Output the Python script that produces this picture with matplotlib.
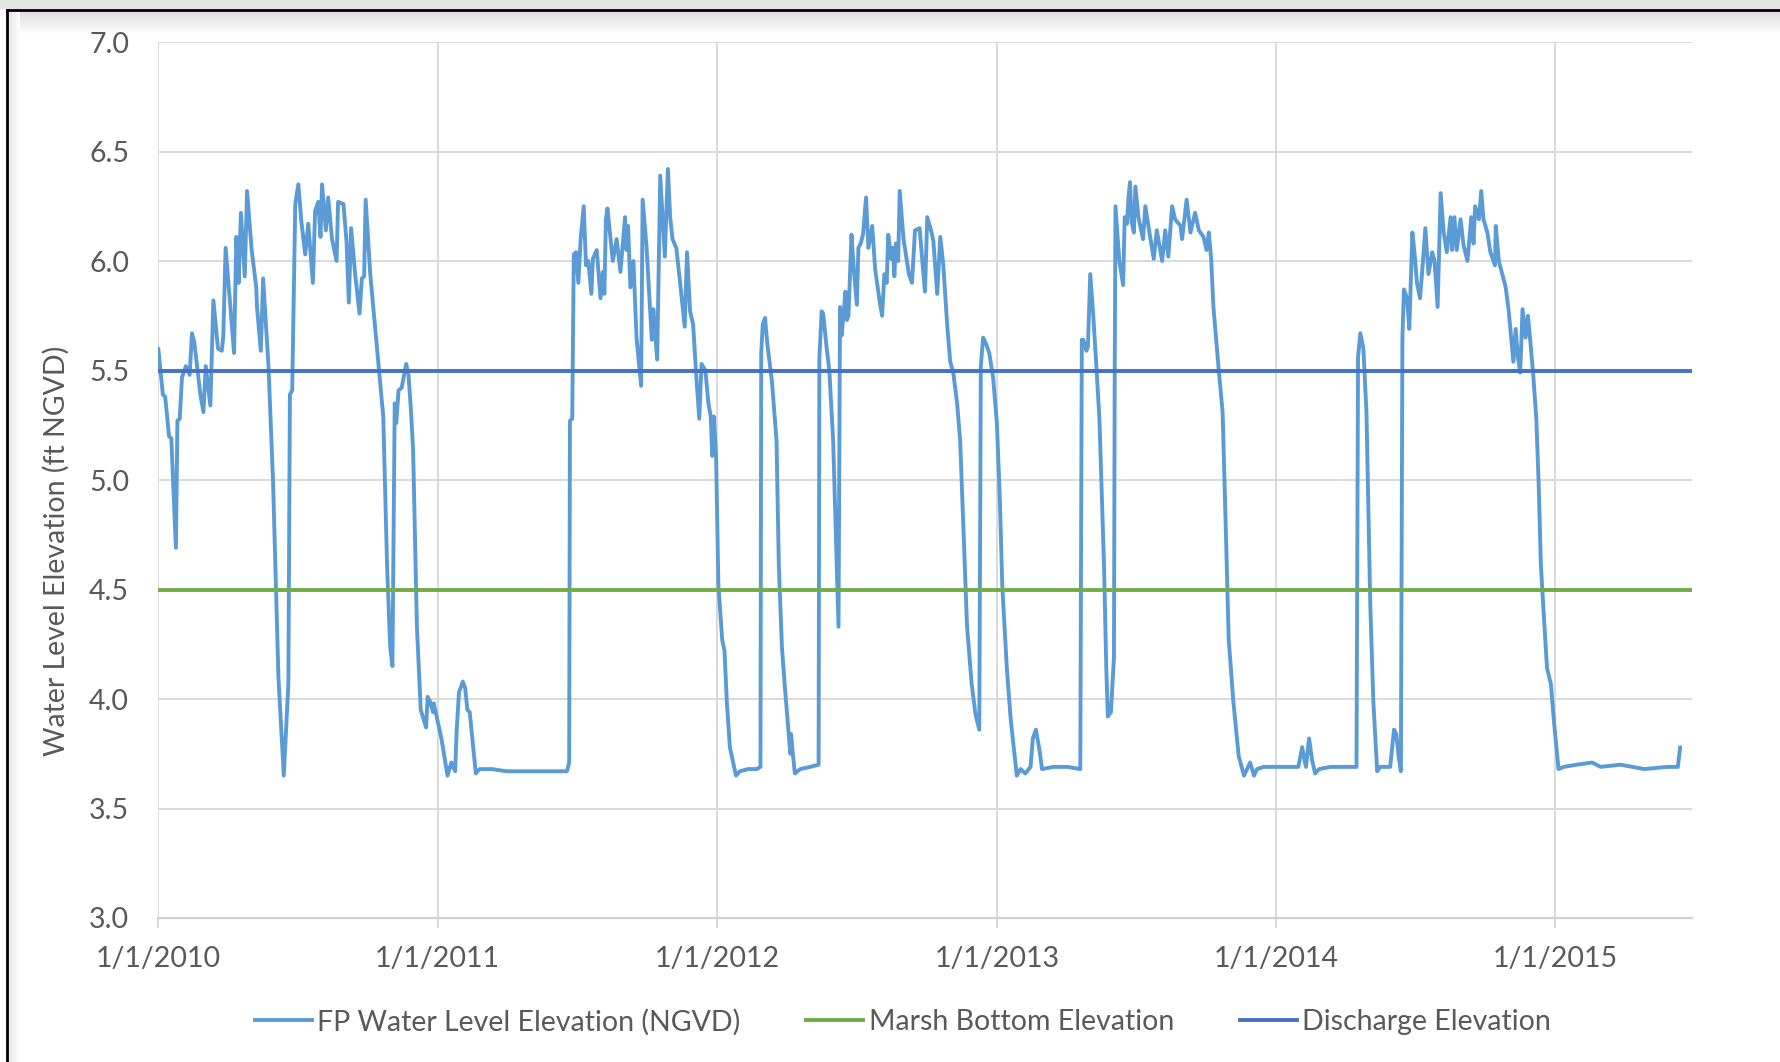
import matplotlib
matplotlib.use('Agg')
import matplotlib.pyplot as plt
import matplotlib.dates as mdates
from matplotlib.ticker import FuncFormatter
from matplotlib.lines import Line2D
from matplotlib.patches import Rectangle
import numpy as np
import pandas as pd

plt.rcParams['font.family'] = ['Lato', 'DejaVu Sans']

# ---------------- data ----------------
start_date = '2010-01-01'
axis_end_date = '2015-06-29'

# days after 1/1/2010
day_offsets = [
    0, 6, 9, 14, 17, 23, 25, 28, 31, 36, 41, 44, 47, 55, 59, 62, 68, 72, 78, 83,
    85, 88, 99, 102, 105, 108, 113, 116, 122, 128, 129, 134, 137, 144, 150, 157, 164, 170, 172, 175,
    179, 183, 187, 192, 196, 202, 205, 209, 212, 214, 219, 222, 227, 233, 235, 242, 246, 249, 252, 257,
    263, 266, 269, 271, 277, 288, 294, 299, 303, 306, 309, 311, 314, 318, 324, 327, 330, 333, 338, 343,
    350, 352, 355, 359, 360, 365, 370, 378, 383, 388, 390, 393, 398, 401, 404, 407, 415, 420, 436, 455,
    473, 500, 534, 537, 538, 541, 543, 546, 549, 552, 556, 559, 562, 566, 568, 573, 578, 581, 583, 585,
    587, 594, 599, 604, 610, 612, 614, 617, 621, 625, 631, 633, 638, 645, 647, 652, 656, 662, 666, 669,
    672, 677, 682, 688, 691, 695, 699, 703, 707, 710, 715, 719, 722, 724, 726, 729, 732, 737, 740, 743,
    747, 755, 760, 771, 782, 787, 788, 790, 793, 796, 802, 808, 811, 815, 819, 824, 826, 827, 829, 832,
    839, 852, 863, 864, 867, 869, 873, 877, 882, 886, 889, 891, 893, 896, 898, 900, 902, 906, 909, 913,
    915, 918, 921, 925, 928, 933, 937, 943, 946, 949, 952, 954, 958, 960, 962, 964, 967, 969, 974, 981,
    985, 989, 995, 999, 1002, 1005, 1010, 1013, 1018, 1022, 1026, 1031, 1035, 1039, 1044, 1048, 1052, 1057, 1063, 1068,
    1073, 1075, 1078, 1082, 1086, 1091, 1096, 1100, 1103, 1109, 1114, 1122, 1127, 1133, 1140, 1143, 1147, 1152, 1155, 1170,
    1188, 1205, 1207, 1209, 1213, 1215, 1218, 1222, 1226, 1230, 1236, 1239, 1241, 1245, 1249, 1250, 1251, 1256, 1261, 1263,
    1266, 1268, 1270, 1272, 1275, 1277, 1281, 1287, 1290, 1294, 1301, 1305, 1312, 1316, 1320, 1325, 1329, 1336, 1338, 1344,
    1349, 1355, 1360, 1366, 1370, 1373, 1376, 1379, 1386, 1391, 1395, 1399, 1405, 1412, 1419, 1423, 1427, 1432, 1436, 1445,
    1462, 1480, 1490, 1495, 1498, 1500, 1504, 1508, 1512, 1517, 1532, 1554, 1566, 1568, 1571, 1575, 1579, 1584, 1588, 1593,
    1597, 1610, 1615, 1618, 1621, 1624, 1626, 1628, 1632, 1635, 1639, 1642, 1645, 1649, 1652, 1656, 1660, 1665, 1668, 1672,
    1676, 1680, 1684, 1689, 1691, 1694, 1697, 1702, 1706, 1711, 1716, 1719, 1721, 1726, 1729, 1732, 1737, 1741, 1747, 1748,
    1752, 1761, 1765, 1771, 1774, 1777, 1780, 1783, 1787, 1790, 1793, 1797, 1801, 1804, 1807, 1811, 1815, 1820, 1824, 1830,
    1837, 1854, 1874, 1885, 1911, 1942, 1972, 1986, 1989,
]

fp_water_level = [
    5.60, 5.39, 5.38, 5.20, 5.19, 4.69, 5.27, 5.28, 5.47, 5.52, 5.48, 5.67, 5.63, 5.39, 5.31, 5.52, 5.34, 5.82, 5.60, 5.59,
    5.66, 6.06, 5.58, 6.11, 5.90, 6.22, 5.93, 6.32, 6.05, 5.88, 5.79, 5.59, 5.92, 5.52, 4.99, 4.10, 3.65, 4.07, 5.39, 5.41,
    6.26, 6.35, 6.18, 6.03, 6.17, 5.90, 6.23, 6.27, 6.11, 6.35, 6.14, 6.29, 6.10, 6.00, 6.27, 6.26, 6.09, 5.81, 6.15, 5.95,
    5.76, 5.92, 5.93, 6.28, 5.94, 5.52, 5.29, 4.61, 4.24, 4.15, 5.35, 5.26, 5.41, 5.42, 5.53, 5.48, 5.33, 5.14, 4.33, 3.95,
    3.87, 4.01, 3.99, 3.94, 3.98, 3.90, 3.82, 3.65, 3.71, 3.67, 3.86, 4.03, 4.08, 4.05, 3.95, 3.94, 3.66, 3.68, 3.68, 3.67,
    3.67, 3.67, 3.67, 3.71, 5.27, 5.28, 6.03, 6.04, 5.90, 6.10, 6.25, 5.98, 6.00, 5.85, 6.01, 6.05, 5.83, 5.95, 5.85, 6.19,
    6.24, 6.00, 6.10, 5.95, 6.20, 6.05, 6.16, 5.88, 6.00, 5.65, 5.43, 6.28, 6.07, 5.64, 5.78, 5.55, 6.39, 6.02, 6.42, 6.20,
    6.10, 6.06, 5.90, 5.70, 6.04, 5.77, 5.71, 5.48, 5.28, 5.53, 5.50, 5.35, 5.29, 5.11, 5.29, 5.11, 4.52, 4.27, 4.22, 3.99,
    3.78, 3.65, 3.67, 3.68, 3.68, 3.69, 5.58, 5.71, 5.74, 5.62, 5.45, 5.18, 4.61, 4.24, 4.05, 3.84, 3.75, 3.84, 3.76, 3.66,
    3.68, 3.69, 3.70, 5.56, 5.77, 5.76, 5.62, 5.50, 5.18, 4.69, 4.33, 5.79, 5.66, 5.77, 5.86, 5.73, 5.75, 6.12, 5.96, 5.80,
    6.06, 6.08, 6.12, 6.29, 6.06, 6.16, 5.96, 5.81, 5.75, 5.94, 5.90, 6.12, 6.01, 6.06, 5.93, 6.08, 6.00, 6.32, 6.10, 5.94,
    5.90, 6.14, 6.15, 5.98, 5.86, 6.20, 6.14, 6.09, 5.85, 6.11, 5.98, 5.71, 5.54, 5.49, 5.35, 5.18, 4.80, 4.33, 4.07, 3.93,
    3.86, 5.52, 5.65, 5.62, 5.58, 5.47, 5.26, 4.90, 4.52, 4.14, 3.91, 3.65, 3.68, 3.66, 3.69, 3.82, 3.86, 3.76, 3.68, 3.69,
    3.69, 3.68, 5.64, 5.64, 5.59, 5.61, 5.94, 5.75, 5.52, 5.28, 4.61, 4.14, 3.92, 3.94, 4.19, 5.50, 6.25, 6.00, 5.89, 6.20,
    6.17, 6.29, 6.36, 6.18, 6.13, 6.34, 6.20, 6.10, 6.25, 6.16, 6.01, 6.14, 6.00, 6.14, 6.02, 6.25, 6.19, 6.16, 6.10, 6.28,
    6.13, 6.22, 6.14, 6.11, 6.05, 6.13, 6.01, 5.79, 5.50, 5.31, 4.80, 4.27, 3.99, 3.74, 3.65, 3.68, 3.71, 3.65, 3.68, 3.69,
    3.69, 3.69, 3.69, 3.78, 3.72, 3.69, 3.82, 3.72, 3.66, 3.68, 3.69, 3.69, 3.69, 5.56, 5.67, 5.60, 5.31, 4.43, 3.99, 3.67,
    3.69, 3.69, 3.86, 3.84, 3.74, 3.67, 5.65, 5.87, 5.83, 5.69, 6.13, 6.03, 5.90, 5.83, 5.96, 6.15, 5.94, 6.04, 6.00, 5.79,
    6.31, 6.13, 6.04, 6.20, 6.05, 6.20, 6.05, 6.19, 6.07, 6.00, 6.20, 6.08, 6.25, 6.19, 6.32, 6.19, 6.13, 6.04, 5.98, 6.16,
    6.00, 5.88, 5.77, 5.54, 5.69, 5.56, 5.49, 5.78, 5.65, 5.75, 5.64, 5.48, 5.28, 4.99, 4.61, 4.37, 4.14, 4.07, 3.90, 3.68,
    3.69, 3.70, 3.71, 3.69, 3.70, 3.68, 3.69, 3.69, 3.78,
]

marsh_bottom_elevation = [4.5, 4.5]
discharge_elevation = [5.5, 5.5]

series_labels = ['FP Water Level Elevation (NGVD)', 'Marsh Bottom Elevation', 'Discharge Elevation']
series_colors = ['#5B9BD5', '#70AD47', '#4472C4']
year_ticks = ['2010-01-01', '2011-01-01', '2012-01-01', '2013-01-01', '2014-01-01', '2015-01-01']
y_ticks = [3.0, 3.5, 4.0, 4.5, 5.0, 5.5, 6.0, 6.5, 7.0]
y_label = 'Water Level Elevation (ft NGVD)'

# ---------------- figure ----------------
W, H = 1781, 1062
FS = 20.5
fig = plt.figure(figsize=(W / 100, H / 100), dpi=100, facecolor='white')

# window frame / shadow decorations
fig.patches.append(Rectangle((0, 1 - 9 / H), 1, 9 / H, transform=fig.transFigure,
                             facecolor='#e1e6e1', edgecolor='none', zorder=0))
grad_ax = fig.add_axes([8 / W, 1 - 34 / H, 1 - 8 / W, 24 / H], zorder=0)
g = np.linspace(0.86, 1.0, 64)
grad_ax.imshow(np.dstack([g, g, g]).reshape(64, 1, 3), aspect='auto',
               extent=[0, 1, 0, 1], interpolation='bilinear')
grad_ax.axis('off')
lgrad_ax = fig.add_axes([8 / W, 0, 12 / W, 1 - 10 / H], zorder=0)
lg = np.linspace(0.90, 1.0, 32)
lgrad_ax.imshow(np.dstack([lg, lg, lg]).reshape(1, 32, 3), aspect='auto',
                extent=[0, 1, 0, 1], interpolation='bilinear')
lgrad_ax.axis('off')
fig.lines.append(Line2D([7 / W, 1], [1 - 9.5 / H, 1 - 9.5 / H], transform=fig.transFigure,
                        color='black', lw=2.0, zorder=5))
fig.lines.append(Line2D([7 / W, 7 / W], [0, 1 - 9.5 / H], transform=fig.transFigure,
                        color='black', lw=2.0, zorder=5))

ax = fig.add_axes([158.3 / W, 1 - 918 / H, (1692.4 - 158.3) / W, (918 - 42) / H], zorder=2)
ax.set_facecolor('none')

t0 = pd.Timestamp(start_date)
t_end = pd.Timestamp(axis_end_date)
fp_dates = t0 + pd.to_timedelta(day_offsets, unit='D')
line_dates = [t0, t_end]

lw = 2.8
ax.plot(fp_dates, fp_water_level, color=series_colors[0], lw=lw, solid_joinstyle='round',
        solid_capstyle='round', label=series_labels[0], zorder=3)
ax.plot(line_dates, marsh_bottom_elevation, color=series_colors[1], lw=lw,
        label=series_labels[1], zorder=4)
ax.plot(line_dates, discharge_elevation, color=series_colors[2], lw=lw,
        label=series_labels[2], zorder=5)

ax.set_xlim(t0, t_end)
ax.set_ylim(3.0, 7.0)
ax.set_yticks(y_ticks)
ax.yaxis.set_major_formatter(FuncFormatter(lambda v, p: f'{v:.1f}'))
ax.set_xticks(pd.to_datetime(year_ticks))


def fmt_date(x, pos):
    d = mdates.num2date(x)
    return f'{d.month}/{d.day}/{d.year}'


ax.xaxis.set_major_formatter(FuncFormatter(fmt_date))

grid_c = '#D9D9D9'
ax.grid(True, color=grid_c, lw=1.4, zorder=1)
ax.set_axisbelow(True)
for s in ['top', 'right', 'left']:
    ax.spines[s].set_visible(False)
ax.spines['bottom'].set_color('#CFCFCF')
ax.spines['bottom'].set_linewidth(1.6)

ax.tick_params(axis='x', direction='out', length=7.5, width=1.4, color=grid_c,
               labelsize=FS, labelcolor='#595959', pad=12.5)
ax.tick_params(axis='y', length=0, labelsize=FS, labelcolor='#595959', pad=21)

fig.text(56 / W, 1 - 551 / H, y_label, rotation=90, ha='center', va='center',
         fontsize=FS, color='#595959')

handles = [Line2D([], [], color=c, lw=lw) for c in series_colors]
fig.legend(handles, series_labels, loc='center', bbox_to_anchor=(903 / W, 1 - 1022 / H),
           ncol=3, frameon=False, fontsize=FS, labelcolor='#595959',
           handlelength=2.0, handletextpad=0.2, columnspacing=2.3)

fig.savefig('out.png', dpi=100, facecolor='white')
